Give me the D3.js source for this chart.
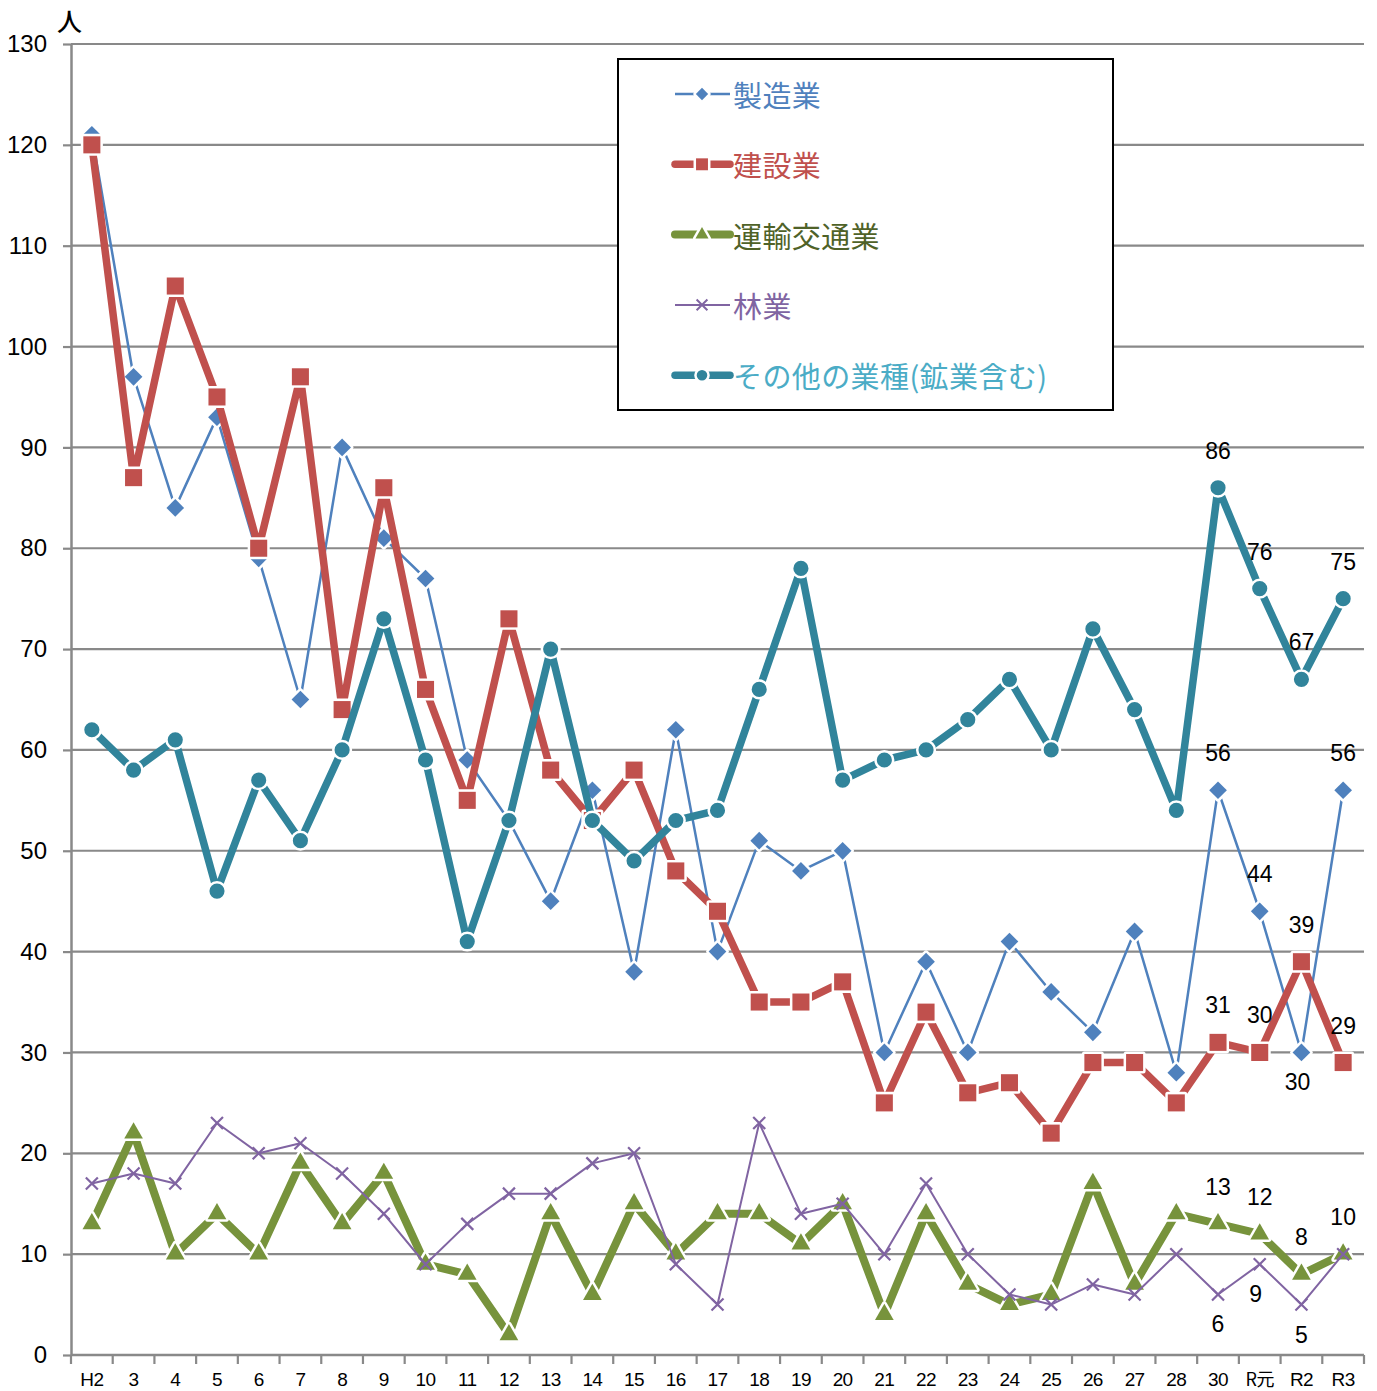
<!DOCTYPE html>
<html>
<head>
<meta charset="utf-8">
<script src="https://cdn.jsdelivr.net/npm/d3@7"></script>
<style>
  html, body { margin: 0; padding: 0; background: #fff; }
  svg { display: block; }
  text { font-family: "Liberation Sans", Arial, sans-serif; }
  .jp { font-family: "Noto Sans CJK JP", "Noto Sans", sans-serif; }
</style>
</head>
<body>
<svg id="chart" width="1377" height="1391"></svg>
<script>
// Fiscal years (平成2年 … 令和3年)
const years = ["H2","3","4","5","6","7","8","9","10","11","12","13","14","15","16","17","18","19","20","21","22","23","24","25","26","27","28","30","R元","R2","R3"];

// 製造業
const manufacturing = [121,97,84,93,79,65,90,81,77,59,53,45,56,38,62,40,51,48,50,30,39,30,41,36,32,42,28,56,44,30,56];
// 建設業
const construction = [120,87,106,95,80,97,64,86,66,55,73,58,53,58,48,44,35,35,37,25,34,26,27,22,29,29,25,31,30,39,29];
// 運輸交通業
const transport = [13,22,10,14,10,19,13,18,9,8,2,14,6,15,10,14,14,11,15,4,14,7,5,6,17,7,14,13,12,8,10];
// 林業
const forestry = [17,18,17,23,20,21,18,14,9,13,16,16,19,20,9,5,23,14,15,10,17,10,6,5,7,6,10,6,9,5,10];
// その他の業種(鉱業含む)
const others = [62,58,61,46,57,51,60,73,59,41,53,70,53,49,53,54,66,78,57,59,60,63,67,60,72,64,54,86,76,67,75];

const yTicks = [0,10,20,30,40,50,60,70,80,90,100,110,120,130];

// Which points carry a value label, and on which side
const labelled = ["30","R元","R2","R3"];

const series = [
  { name: "製造業", values: manufacturing, color: "#4F81BD", text: "#4F81BD", width: 2.5, marker: "diamond", size: 200,
    below: ["R2"], dx: { "R2": -4 } },
  { name: "建設業", values: construction, color: "#C0504D", text: "#C0504D", width: 7.5, marker: "square", size: 370,
    below: [] },
  { name: "運輸交通業", values: transport, color: "#77933C", text: "#4F6228", width: 8, marker: "triangle", size: 250,
    below: [] },
  { name: "林業", values: forestry, color: "#8064A2", text: "#8064A2", width: 2, marker: "cross", size: 12,
    below: ["30","R元","R2"], skip: ["R3"], dx: { "R元": -4 } },
  { name: "その他の業種(鉱業含む)", values: others, color: "#31849B", text: "#4BACC6", width: 7.5, marker: "circle", size: 180,
    below: [] }
];

const svg = d3.select("#chart");
const margin = { left: 71, right: 13, top: 44, bottom: 36 };
const W = 1377, H = 1391;

const x = d3.scaleBand().domain(years).range([margin.left, W - margin.right]).paddingInner(0).paddingOuter(0);
const cx = d => x(d) + x.bandwidth() / 2;
const y = d3.scaleLinear().domain([0, 130]).range([H - margin.bottom, margin.top]);

// Horizontal gridlines
svg.append("g")
  .selectAll("line")
  .data(yTicks.filter(t => t > 0))
  .join("line")
  .attr("x1", margin.left).attr("x2", W - margin.right)
  .attr("y1", d => y(d)).attr("y2", d => y(d))
  .attr("stroke", "#898989").attr("stroke-width", 2.2);

// Y axis
const yAxis = d3.axisLeft(y).tickValues(yTicks).tickSize(8).tickPadding(16).tickSizeOuter(0);
const gy = svg.append("g").attr("transform", `translate(${margin.left},0)`).call(yAxis);
gy.select(".domain").attr("stroke", "#898989").attr("stroke-width", 2.5);
gy.selectAll(".tick line").attr("stroke", "#898989").attr("stroke-width", 2.2);
gy.selectAll(".tick text").attr("font-size", 24).attr("fill", "#000")
  .attr("font-family", "Liberation Sans, Arial, sans-serif");

// X axis: ticks sit on category boundaries
const gx = svg.append("g").attr("transform", `translate(0,${y(0)})`);
gx.append("line").attr("x1", margin.left).attr("x2", W - margin.right)
  .attr("stroke", "#898989").attr("stroke-width", 2.5);
gx.selectAll(".bt")
  .data(years.concat(["_end"]))
  .join("line")
  .attr("class", "bt")
  .attr("x1", (d, i) => margin.left + i * x.step())
  .attr("x2", (d, i) => margin.left + i * x.step())
  .attr("y1", 0).attr("y2", 9)
  .attr("stroke", "#898989").attr("stroke-width", 2.2);
gx.selectAll(".lbl")
  .data(years)
  .join("text")
  .attr("class", d => /元/.test(d) ? "lbl jp" : "lbl")
  .attr("x", d => cx(d))
  .attr("y", 31)
  .attr("text-anchor", "middle")
  .attr("font-size", d => /元/.test(d) ? 18 : 19)
  .attr("letter-spacing", -0.6)
  .attr("fill", "#000")
  .text(d => d);

// Unit label
svg.append("text").attr("class", "jp").attr("x", 57).attr("y", 31)
  .attr("font-size", 25).attr("font-weight", 500).attr("fill", "#000").text("人");

function markerPath(type, size) {
  if (type === "cross") {
    const h = size / 2;
    return `M${-h},${-h}L${h},${h}M${-h},${h}L${h},${-h}`;
  }
  const sym = { diamond: d3.symbolDiamond2, square: d3.symbolSquare2, triangle: d3.symbolTriangle2, circle: d3.symbolCircle }[type];
  return d3.symbol().type(sym).size(size)();
}

function drawMarker(g, s, px, py, scale = 1) {
  const p = g.append("path")
    .attr("transform", `translate(${px},${py}) scale(${scale})`)
    .attr("d", markerPath(s.marker, s.size));
  if (s.marker === "cross") {
    p.attr("fill", "none").attr("stroke", s.color).attr("stroke-width", 2.2);
  } else {
    p.attr("fill", s.color).attr("stroke", "#fff").attr("stroke-width", 5 / scale)
      .attr("stroke-linejoin", "round").attr("paint-order", "stroke");
  }
  return p;
}

const line = d3.line().x((d, i) => cx(years[i])).y(d => y(d));

// Series lines and markers
series.forEach(s => {
  const g = svg.append("g");
  g.append("path")
    .attr("d", line(s.values))
    .attr("fill", "none")
    .attr("stroke", s.color)
    .attr("stroke-width", s.width)
    .attr("stroke-linejoin", "round");
  s.values.forEach((v, i) => drawMarker(g, s, cx(years[i]), y(v)));
});

// Value labels for recent years
series.forEach(s => {
  labelled.forEach(yr => {
    if (s.skip && s.skip.includes(yr)) return;
    const i = years.indexOf(yr);
    const v = s.values[i];
    const below = s.below.includes(yr);
    const off = (s.dx && s.dx[yr]) || 0;
    svg.append("text")
      .attr("x", cx(yr) + off)
      .attr("y", y(v) + (below ? 30 : -37))
      .attr("text-anchor", "middle")
      .attr("dominant-baseline", "central")
      .attr("font-size", 23)
      .attr("fill", "#000")
      .text(v);
  });
});

// Legend
const lg = svg.append("g");
lg.append("rect").attr("x", 618).attr("y", 59).attr("width", 495).attr("height", 351)
  .attr("fill", "#fff").attr("stroke", "#000").attr("stroke-width", 2);
series.forEach((s, k) => {
  const ry = 94 + k * 70.3;
  lg.append("line").attr("x1", 675).attr("x2", 730).attr("y1", ry).attr("y2", ry)
    .attr("stroke", s.color).attr("stroke-width", s.width).attr("stroke-linecap", s.width > 4 ? "round" : "butt");
  drawMarker(lg, s, 702, ry, s.marker === "cross" ? 0.9 : 0.7);
  lg.append("text").attr("class", "jp")
    .attr("x", 733).attr("y", ry)
    .attr("dominant-baseline", "central")
    .attr("font-size", 29)
    .attr("letter-spacing", 0.4)
    .attr("fill", s.text)
    .text(s.name);
});
</script>
</body>
</html>
